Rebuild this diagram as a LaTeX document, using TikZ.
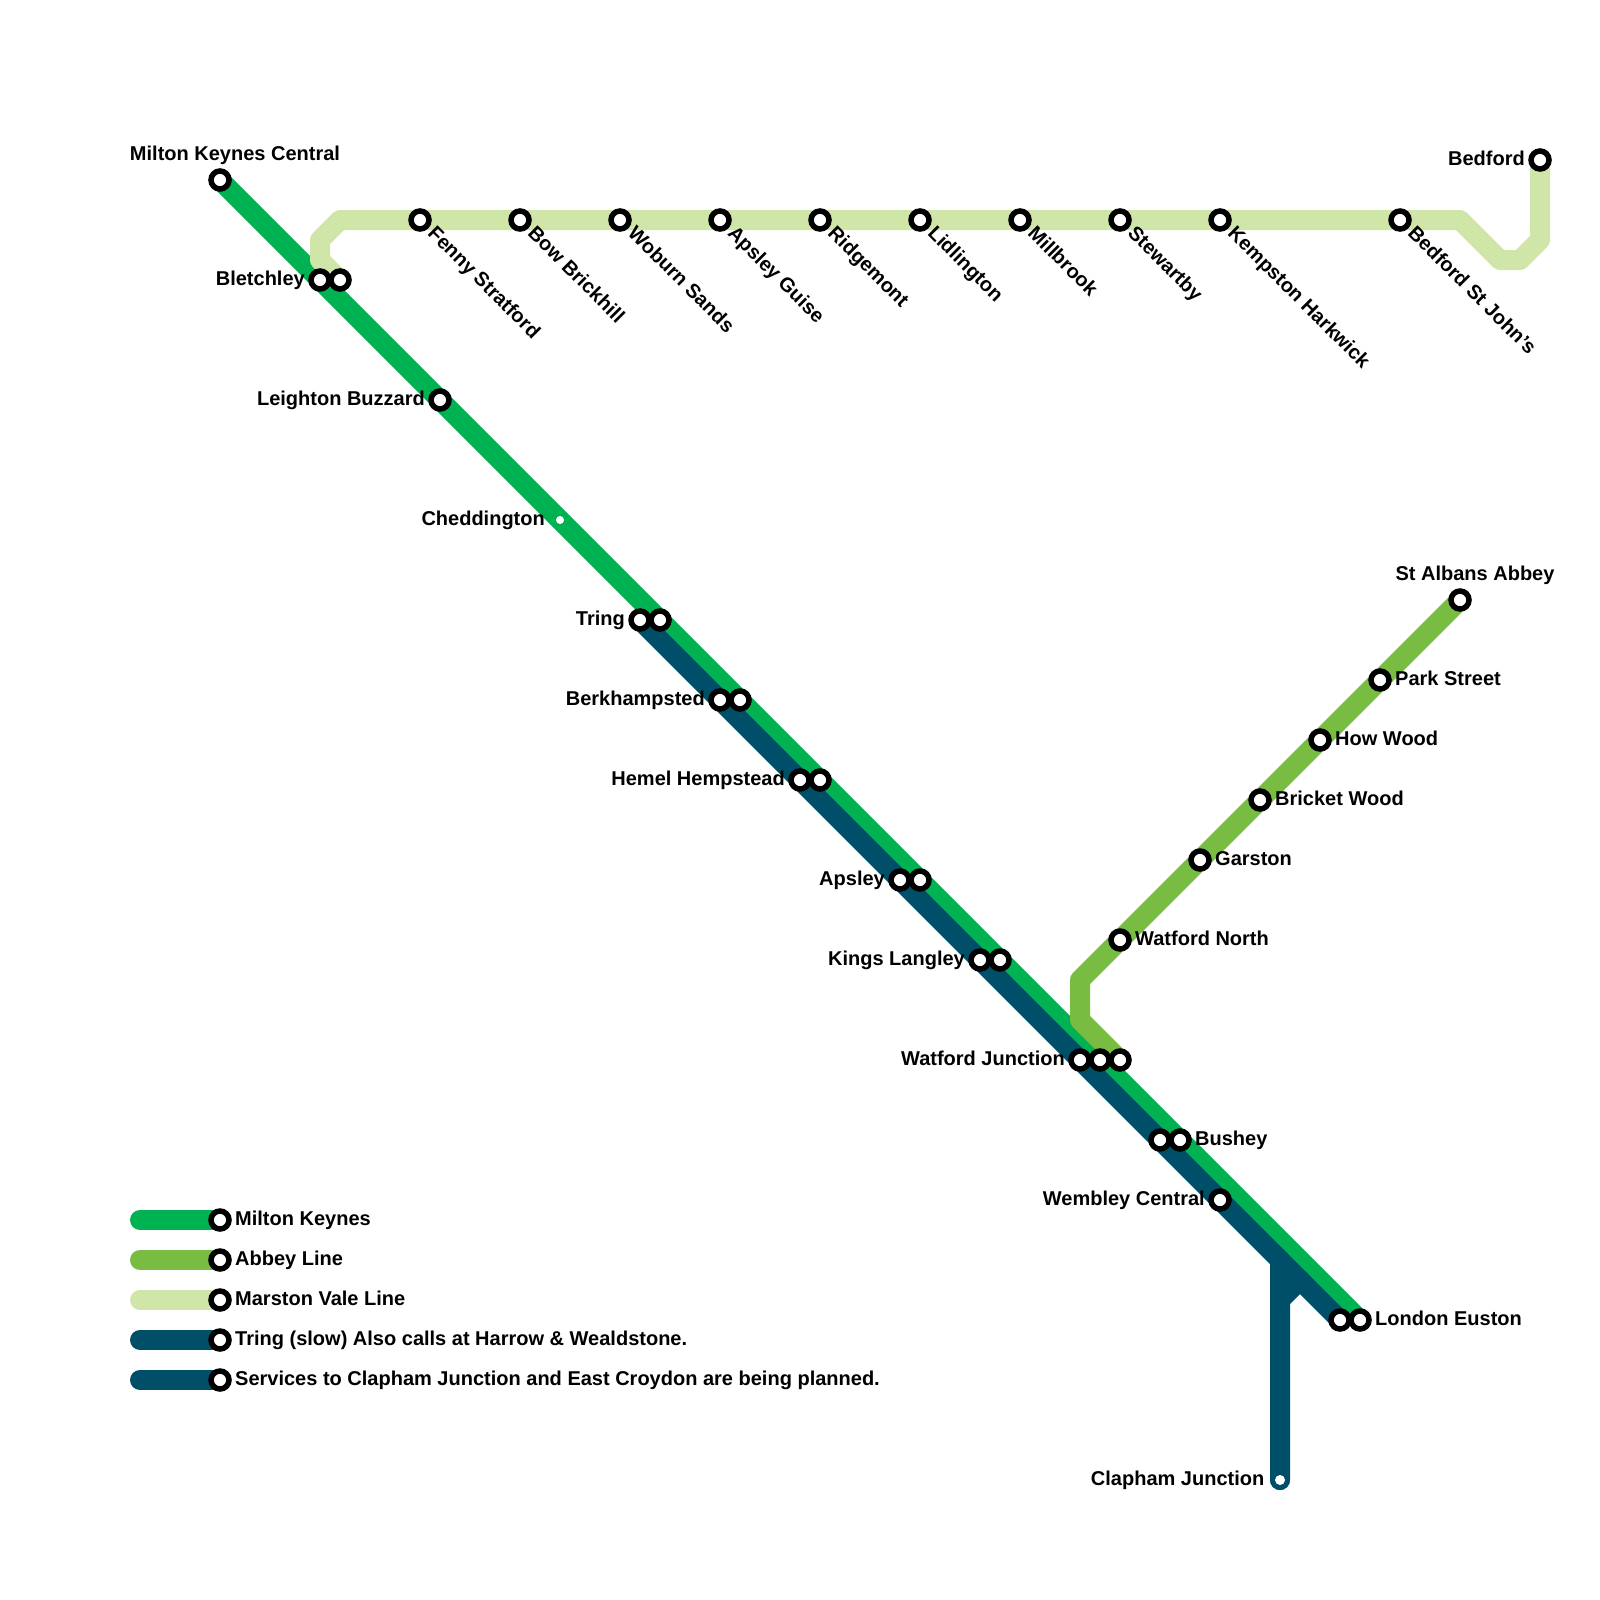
\documentclass[tikz,border=0pt]{standalone}
\usepackage{fontspec}
\setmainfont{Liberation Sans}
\usetikzlibrary{positioning}
\pgfdeclarelayer{track}
\pgfsetlayers{track,main}

\definecolor{mkgreen}{HTML}{00B251}
\definecolor{abbeygreen}{HTML}{78BC42}
\definecolor{marstongreen}{HTML}{D0E6A8}
\definecolor{tringblue}{HTML}{004F69}

\begin{document}
\begin{tikzpicture}[
        x=1pt, y=-1pt,
        station/.style={circle, fill=white, draw=black, line width=5.5pt, minimum size=18pt, inner sep=0pt},
        halt/.style={circle, fill=white, inner sep=0pt, outer sep=0pt},
        stnname/.style={font=\bfseries\fontsize{20}{24}\selectfont, text height=15pt, text depth=4.4pt, inner sep=0pt},
        tiltname/.style={stnname, anchor=west, rotate=-45},
        track/.style={line width=20pt, line cap=round, line join=round}
    ]
        \useasboundingbox (0,0) rectangle (1600,1600);

        % Milton Keynes stations
        \node[station] (mkc) at (220,180) {};
        \node[stnname, above=3pt of mkc, xshift=15pt] (mkctext) {Milton Keynes Central};
        \node[station] (bletchley) at (320,280) {};
        \node[stnname, left=3.25pt of bletchley] (bletchleytext) {Bletchley};
        \node[station] (bletchleyb) at (340,280) {};
        \node[station] (leighton) at (440,400) {};
        \node[stnname, left=3.25pt of leighton] (leightontext) {Leighton Buzzard};
        \node[halt, minimum size=8pt] (cheddington) at (560,520) {};
        \node[stnname, left=11pt of cheddington] (cheddingtontext) {Cheddington};

        % Double stations, slow platform first
        \foreach \id/\x/\y/\txt in {tring/640/620/Tring, berk/720/700/Berkhampsted, hemel/800/780/Hemel Hempstead,
                apsley/900/880/Apsley, kings/980/960/Kings Langley, watford/1080/1060/Watford Junction} {
            \node[station] (\id) at (\x,\y) {};
            \node[station] (\id b) at (\x+20,\y) {};
            \node[stnname, left=3.25pt of \id] (\id text) {\txt};
        }
        \node[station] (watfordc) at (1120,1060) {};
        \node[station] (bushey) at (1160,1140) {};
        \node[station] (busheyb) at (1180,1140) {};
        \node[stnname, right=3.25pt of busheyb] (busheytext) {Bushey};
        \node[station] (wembley) at (1220,1200) {};
        \node[stnname, left=3.25pt of wembley] (wembleytext) {Wembley Central};
        \node[station] (euston) at (1340,1320) {};
        \node[station] (eustonb) at (1360,1320) {};
        \node[stnname, right=3.25pt of eustonb] (eustontext) {London Euston};
        \node[halt, minimum size=10pt] (clapham) at (1280,1480) {};
        \node[stnname, left=10.5pt of clapham] (claphamtext) {Clapham Junction};

        % Abbey Line stations
        \foreach \id/\x/\y/\txt in {northw/1120/940/Watford North, garston/1200/860/Garston, bricket/1260/800/Bricket Wood,
                howwood/1320/740/How Wood, park/1380/680/Park Street} {
            \node[station] (\id) at (\x,\y) {};
            \node[stnname, right=3.25pt of \id] (\id text) {\txt};
        }
        \node[station] (albans) at (1460,600) {};
        \node[stnname, above=3pt of albans, xshift=15pt] (albanstext) {St Albans Abbey};

        % Marston Vale stations
        \foreach \id/\x/\txt in {fenny/420/Fenny Stratford, bow/520/Bow Brickhill, woburn/620/Woburn Sands,
                guise/720/Apsley Guise, ridgemont/820/Ridgemont, lidlington/920/Lidlington, millbrook/1020/Millbrook,
                stewartby/1120/Stewartby, kempston/1220/Kempston Harkwick, stjohns/1400/Bedford St John’s} {
            \node[station] (\id) at (\x,220) {};
            \node[tiltname] (\id text) at ([shift={(10.5,10.5)}]\id.center) {\txt};
        }
        \node[station] (bedford) at (1540,160) {};
        \node[stnname, left=3.25pt of bedford] (bedfordtext) {Bedford};

        % Key
        \foreach \id/\y/\col/\txt in {a/1220/mkgreen/Milton Keynes, b/1260/abbeygreen/Abbey Line, c/1300/marstongreen/Marston Vale Line,
                d/1340/tringblue/Tring (slow) Also calls at Harrow \& Wealdstone.,
                e/1380/tringblue/Services to Clapham Junction and East Croydon are being planned.} {
            \coordinate (key\id) at (140,\y);
            \node[station] (keystn\id) at (220,\y) {};
            \node[stnname, right=3.25pt of keystn\id] (key\id text) {\txt};
            \begin{pgfonlayer}{track}
                \draw[track, \col] (key\id) -- (keystn\id.center);
            \end{pgfonlayer}
        }

        % Lines
        \begin{pgfonlayer}{track}
            \draw[track, mkgreen] (mkc.center) -- (eustonb.center);
            \draw[track, tringblue] (tring.center) -- (euston.center);
            \draw[track, tringblue] (clapham.center) -- (1280,1300) -- (1300,1280);
            \draw[track, tringblue] (clapham.center) -- (1280,1260);
            \draw[track, abbeygreen] (watfordc.center) -- (1080,1020) -- (1080,980) -- (albans.center);
            \draw[track, marstongreen] (bletchleyb.center) -- (320,260) -- (320,240) -- (340,220)
                -- (1460,220) -- (1500,260) -- (1520,260) -- (1540,240) -- (bedford.center);
        \end{pgfonlayer}
    \end{tikzpicture}
\end{document}
